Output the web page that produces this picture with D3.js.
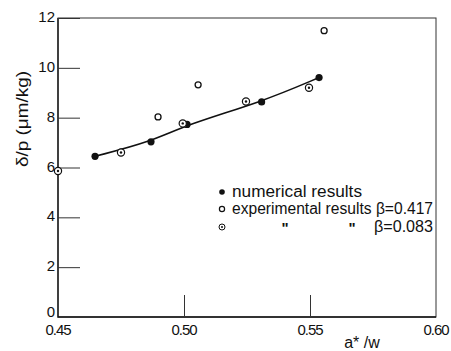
<!DOCTYPE html>
<html>
<head>
  <meta charset="utf-8">
  <script src="https://d3js.org/d3.v7.min.js"></script>
  <style>
    body { margin: 0; background: #fff; }
    text { font-family: 'Liberation Sans', sans-serif; fill: #111; }
  </style>
</head>
<body>
  <div id="chart"></div>
  <script>
    // numerical results (filled dots, joined by the curve)
    var numX = [0.4647, 0.4869, 0.5012, 0.5308, 0.5536];
    var numY = [6.45, 7.03, 7.73, 8.63, 9.61];
    // experimental results beta = 0.417 (open circles)
    var expAX = [0.4897, 0.5056, 0.5556];
    var expAY = [8.03, 9.32, 11.49];
    // experimental results beta = 0.083 (circle with dot)
    var expBX = [0.4500, 0.4750, 0.4995, 0.5246, 0.5496];
    var expBY = [5.86, 6.60, 7.77, 8.65, 9.20];

    var xTicks = [0.45, 0.50, 0.55, 0.60];
    var yTicks = [0, 2, 4, 6, 8, 10, 12];

    var W = 451, H = 351;
    var margin = {top: 18, right: 15, bottom: 34, left: 58};
    var width = W - margin.left - margin.right,
        height = H - margin.top - margin.bottom;

    var svg = d3.select("#chart").append("svg")
      .attr("width", W).attr("height", H);
    var g = svg.append("g")
      .attr("transform", "translate(" + margin.left + "," + margin.top + ")");

    var x = d3.scaleLinear().domain([0.45, 0.60]).range([0, width]);
    var y = d3.scaleLinear().domain([0, 12]).range([height, 0]);

    // frame
    g.append("rect")
      .attr("width", width).attr("height", height)
      .attr("fill", "none").attr("stroke", "#333").attr("stroke-width", 1);
    g.append("path")
      .attr("d", "M0,0V" + height + "H" + width)
      .attr("fill", "none").attr("stroke", "#111").attr("stroke-width", 1.3);

    // inner ticks on left axis
    var yAxis = g.append("g")
      .call(d3.axisRight(y).tickValues(yTicks).tickSize(22).tickFormat(""));
    yAxis.select(".domain").remove();
    yAxis.selectAll("line").attr("stroke", "#333");

    g.selectAll(".ylab").data(yTicks).enter().append("text")
      .attr("x", -3).attr("y", d => y(d) + (d === 0 ? 0 : 4))
      .attr("text-anchor", "end").attr("font-size", 15)
      .text(d => d);

    // inner ticks on bottom axis
    var xAxis = g.append("g")
      .attr("transform", "translate(0," + height + ")")
      .call(d3.axisTop(x).tickValues(xTicks.slice(1, 3)).tickSize(22).tickFormat(""));
    xAxis.select(".domain").remove();
    xAxis.selectAll("line").attr("stroke", "#333");

    g.selectAll(".xlab").data(xTicks).enter().append("text")
      .attr("x", d => x(d)).attr("y", height + 18)
      .attr("text-anchor", "middle").attr("font-size", 15)
      .attr("letter-spacing", -1)
      .text(d => d.toFixed(2));

    // curve through numerical results
    var pts = numX.map((v, i) => [v, numY[i]]);
    g.append("path")
      .datum(pts)
      .attr("fill", "none").attr("stroke", "#111").attr("stroke-width", 1.6)
      .attr("d", d3.line().x(d => x(d[0])).y(d => y(d[1])).curve(d3.curveBasis));

    g.selectAll(".num").data(pts).enter().append("circle")
      .attr("cx", d => x(d[0])).attr("cy", d => y(d[1]))
      .attr("r", 3.6).attr("fill", "#111");

    g.selectAll(".expA").data(expAX).enter().append("circle")
      .attr("cx", d => x(d)).attr("cy", (d, i) => y(expAY[i]))
      .attr("r", 3).attr("fill", "#fff").attr("stroke", "#111").attr("stroke-width", 1.3);

    var b = g.selectAll(".expB").data(expBX).enter().append("g")
      .attr("transform", (d, i) => "translate(" + x(d) + "," + y(expBY[i]) + ")");
    b.append("circle").attr("r", 3.6).attr("fill", "#fff")
      .attr("stroke", "#111").attr("stroke-width", 1.2);
    b.append("circle").attr("r", 1.2).attr("fill", "#111");

    // legend
    var lg = svg.append("g");
    lg.append("circle").attr("cx", 222).attr("cy", 192).attr("r", 2.8).attr("fill", "#111");
    lg.append("circle").attr("cx", 222).attr("cy", 209).attr("r", 2.6)
      .attr("fill", "#fff").attr("stroke", "#111").attr("stroke-width", 1.2);
    lg.append("circle").attr("cx", 222).attr("cy", 227).attr("r", 3)
      .attr("fill", "#fff").attr("stroke", "#111").attr("stroke-width", 1);
    lg.append("circle").attr("cx", 222).attr("cy", 227).attr("r", 1).attr("fill", "#111");
    lg.append("text").attr("x", 232).attr("y", 197).attr("font-size", 16)
      .attr("textLength", 130).attr("lengthAdjust", "spacingAndGlyphs")
      .text("numerical results");
    lg.append("text").attr("x", 232).attr("y", 214).attr("font-size", 16)
      .attr("textLength", 201).attr("lengthAdjust", "spacingAndGlyphs")
      .text("experimental results β=0.417");
    lg.append("text").attr("x", 285).attr("y", 233).attr("font-size", 15).attr("font-weight", "bold").attr("text-anchor", "middle").text("\"");
    lg.append("text").attr("x", 352).attr("y", 233).attr("font-size", 15).attr("font-weight", "bold").attr("text-anchor", "middle").text("\"");
    lg.append("text").attr("x", 433).attr("y", 232).attr("font-size", 16).attr("text-anchor", "end")
      .attr("textLength", 59).attr("lengthAdjust", "spacingAndGlyphs")
      .text("β=0.083");

    // axis titles
    svg.append("text")
      .attr("transform", "translate(28,119) rotate(-90)")
      .attr("text-anchor", "middle").attr("font-size", 16)
      .attr("textLength", 96).attr("lengthAdjust", "spacingAndGlyphs")
      .text("δ/p  (μm/kg)");
    svg.append("text")
      .attr("x", 362).attr("y", 348)
      .attr("text-anchor", "middle").attr("font-size", 16)
      .text("a* /w");
  </script>
</body>
</html>
